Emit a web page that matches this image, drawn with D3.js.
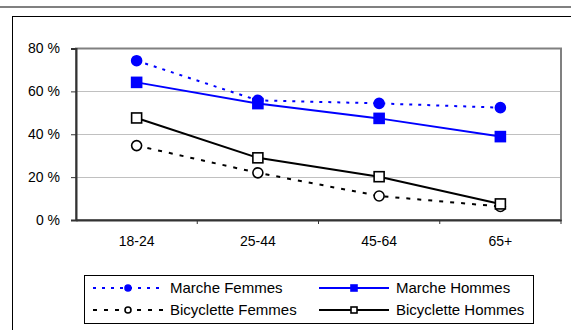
<!DOCTYPE html>
<html>
<head>
<meta charset="utf-8">
<script src="https://cdn.jsdelivr.net/npm/d3@7"></script>
<style>
  body { margin: 0; background: #fff; }
  text { font-family: "Liberation Sans", Arial, sans-serif; fill: #000; }
</style>
</head>
<body>
<div id="container"></div>
<script>
// age groups and percentages
const ages = ["18-24", "25-44", "45-64", "65+"];
const marcheFemmes = [74.3, 55.8, 54.4, 52.4];
const marcheHommes = [64.2, 54.3, 47.4, 38.9];
const veloFemmes = [34.7, 22, 11.2, 6.3];
const veloHommes = [47.6, 29, 20.2, 7.5];
const yTicks = [0, 20, 40, 60, 80];

const series = [
  { name: "Marche Femmes", values: marcheFemmes, color: "#0000ff", dash: "3,6", marker: "circle", fill: "#0000ff" },
  { name: "Marche Hommes", values: marcheHommes, color: "#0000ff", dash: null, marker: "square", fill: "#0000ff" },
  { name: "Bicyclette Femmes", values: veloFemmes, color: "#000", dash: "4,7", marker: "circle", fill: "#fff" },
  { name: "Bicyclette Hommes", values: veloHommes, color: "#000", dash: null, marker: "square", fill: "#fff" }
];

const width = 571, height = 330;
const plotL = 76, plotR = 561, plotT = 48.5, plotB = 220;
const font = "Liberation Sans, Arial, sans-serif";

const svg = d3.select("#container").append("svg")
  .attr("width", width)
  .attr("height", height);

// page rule and chart frame
svg.append("line")
  .attr("x1", 0).attr("x2", width).attr("y1", 7).attr("y2", 7)
  .attr("stroke", "#808080").attr("stroke-width", 2);
svg.append("rect")
  .attr("x", 12.5).attr("y", 16.5).attr("width", 600).attr("height", 400)
  .attr("fill", "none").attr("stroke", "#000").attr("stroke-width", 1);

const x = d3.scaleBand().domain(ages).range([plotL, plotR]);
const y = d3.scaleLinear().domain([0, 80]).range([plotB, plotT]);

// grid lines
svg.append("g").selectAll("line").data(yTicks.slice(1, -1)).enter().append("line")
  .attr("x1", plotL).attr("x2", plotR)
  .attr("y1", d => Math.round(y(d)) + 0.5).attr("y2", d => Math.round(y(d)) + 0.5)
  .attr("stroke", "#c0c0c0");

// plot area border (top/right grey)
svg.append("rect")
  .attr("x", plotL).attr("y", plotT).attr("width", plotR - plotL).attr("height", plotB - plotT)
  .attr("fill", "none").attr("stroke", "#808080").attr("stroke-width", 2);

// y axis
const yAxis = svg.append("g")
  .attr("transform", `translate(${plotL},0)`)
  .call(d3.axisLeft(y).tickValues(yTicks).tickSize(5).tickPadding(11).tickFormat(d => d + " %"));
yAxis.attr("font-size", 14).attr("font-family", font);
yAxis.select(".domain").attr("stroke", "#333").attr("stroke-width", 2);
yAxis.selectAll(".tick line").attr("stroke", "#333");

// x axis, ticks between categories
const xAxis = svg.append("g")
  .attr("transform", `translate(0,${plotB})`)
  .call(d3.axisBottom(x).tickSize(0).tickPadding(16));
xAxis.attr("font-size", 14).attr("font-family", font);
xAxis.select(".domain").attr("stroke", "#333").attr("stroke-width", 2);
xAxis.selectAll(".sep").data(ages).enter().append("line")
  .attr("x1", d => x(d) + x.bandwidth()).attr("x2", d => x(d) + x.bandwidth())
  .attr("y1", 0).attr("y2", 4).attr("stroke", "#333");

const cx = d => x(d) + x.bandwidth() / 2;
const line = d3.line().x((d, i) => cx(ages[i])).y(d => y(d));

function drawMarker(g, s, px, py, size) {
  if (s.marker === "circle") {
    g.append("circle").attr("cx", px).attr("cy", py).attr("r", size / 2)
      .attr("fill", s.fill).attr("stroke", s.color).attr("stroke-width", 1.6);
  } else {
    g.append("rect").attr("x", px - size / 2).attr("y", py - size / 2)
      .attr("width", size).attr("height", size)
      .attr("fill", s.fill).attr("stroke", s.color).attr("stroke-width", 1.6);
  }
}

series.forEach(s => {
  const g = svg.append("g");
  g.append("path").datum(s.values).attr("d", line)
    .attr("fill", "none").attr("stroke", s.color).attr("stroke-width", 2)
    .attr("stroke-dasharray", s.dash);
  s.values.forEach((v, i) => drawMarker(g, s, cx(ages[i]), y(v), 10));
});

// legend
const lg = svg.append("g");
lg.append("rect").attr("x", 84.5).attr("y", 275.5).attr("width", 449).attr("height", 48)
  .attr("fill", "#fff").attr("stroke", "#000");
const cols = [93, 319];
series.forEach((s, i) => {
  const lx = cols[i % 2], ly = i < 2 ? 288 : 310;
  lg.append("line").attr("x1", lx).attr("x2", lx + 70).attr("y1", ly).attr("y2", ly)
    .attr("stroke", s.color).attr("stroke-width", 2).attr("stroke-dasharray", s.dash);
  drawMarker(lg, s, lx + 35, ly, 6);
  lg.append("text").attr("x", lx + 77).attr("y", ly + 5)
    .attr("font-size", 15).text(s.name);
});
</script>
</body>
</html>
